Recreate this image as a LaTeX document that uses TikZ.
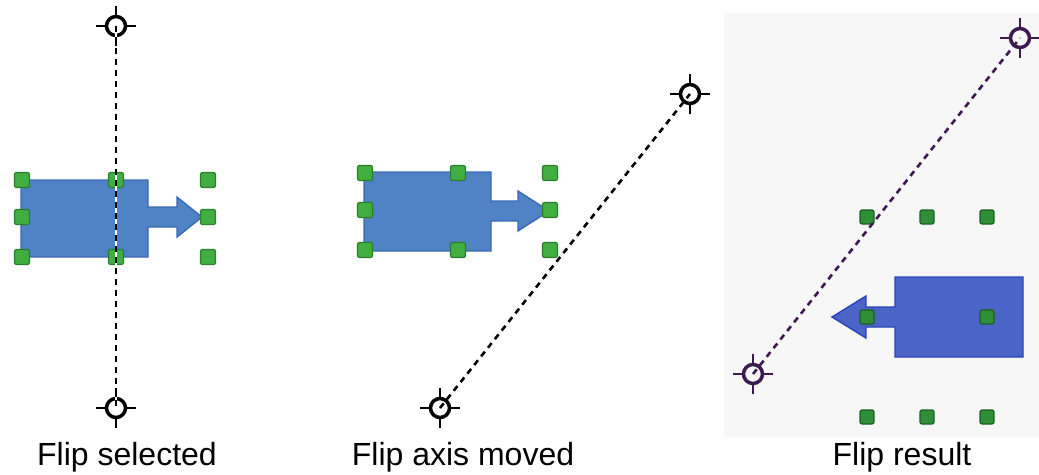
\documentclass[tikz,border=0pt]{standalone}
\usepackage{fontspec}
\setmainfont{Liberation Sans}
\usepackage{xcolor}
\usetikzlibrary{positioning}
\definecolor{blockfill}{HTML}{5082C6}
\definecolor{blockedge}{HTML}{3B6AB4}
\definecolor{flipfill}{HTML}{4A64C8}
\definecolor{flipedge}{HTML}{2B45B8}
\definecolor{gripfill}{HTML}{40AE40}
\definecolor{gripedge}{HTML}{2A7F2A}
\definecolor{gripdarkfill}{HTML}{2F8F38}
\definecolor{gripdarkedge}{HTML}{1E5E22}
\definecolor{axispurple}{HTML}{3D1A4F}
\definecolor{panelgray}{HTML}{F7F7F7}

\begin{document}
\begin{tikzpicture}[
  x=1pt, y=-1pt,
  grip/.style={draw=gripedge, fill=gripfill, rounded corners=2pt, minimum size=15pt, inner sep=0pt, line width=1.2pt},
  gripdark/.style={grip, draw=gripdarkedge, fill=gripdarkfill, minimum size=14pt},
  pivot/.style={circle, draw=#1, line width=3.5pt, minimum size=19pt, inner sep=0pt},
  pivot/.default=black,
  axisline/.style={dash pattern=on 6pt off 5pt, line width=2.6pt},
  block/.style={line width=1.4pt, line join=miter},
  lbl/.style={font=\fontsize{32}{38}\selectfont, anchor=base}]
  \useasboundingbox (0,0) rectangle (1039,474);
  \fill[panelgray] (724,13) rectangle (1039,437);

  % panel 1: flip selected
  \draw[block, fill=blockfill, draw=blockedge] (21,180) -- (148,180) -- (148,207) -- (177,207) -- (177,197) -- (202,217) -- (177,237) -- (177,227) -- (148,227) -- (148,257) -- (21,257) -- cycle;
  \foreach \x/\y/\n in {22/180/1, 116/180/2, 208/180/3, 22/217/4, 208/217/5, 22/257/6, 116/257/7, 208/257/8}
    \node[grip] (a\n) at (\x,\y) {};
  \node[pivot] (at) at (116,26) {};
  \node[pivot] (ab) at (116,408) {};
  \draw[line width=2.6pt, white] (at.center) -- (ab.center);
  \draw[axisline] (at.center) -- (ab.center);
  \node[lbl] (capa) at (127,465) {Flip selected};

  % panel 2: flip axis moved
  \draw[block, fill=blockfill, draw=blockedge] (364,172) -- (491,172) -- (491,201) -- (518,201) -- (518,191) -- (549,211) -- (518,231) -- (518,221) -- (491,221) -- (491,251) -- (364,251) -- cycle;
  \foreach \x/\y/\n in {365/173/1, 458/173/2, 550/173/3, 365/210/4, 550/210/5, 365/250/6, 458/250/7, 550/250/8}
    \node[grip] (b\n) at (\x,\y) {};
  \node[pivot] (bt) at (690,94) {};
  \node[pivot] (bb) at (440,408) {};
  \draw[axisline] (bb.center) -- (bt.center);
  \node[lbl] (capb) at (463,465) {Flip axis moved};

  % panel 3: flip result
  \draw[block, fill=flipfill, draw=flipedge] (1023,277) -- (895,277) -- (895,307) -- (866,307) -- (866,296) -- (832,317) -- (866,338) -- (866,327) -- (895,327) -- (895,357) -- (1023,357) -- cycle;
  \foreach \x/\y/\n in {867/217/1, 927/217/2, 987/217/3, 867/317/4, 987/317/5, 867/417/6, 927/417/7, 987/417/8}
    \node[gripdark] (c\n) at (\x,\y) {};
  \node[pivot=axispurple] (ct) at (1020,38) {};
  \node[pivot=axispurple] (cb) at (753,374) {};
  \draw[axisline, axispurple] (cb.center) -- (ct.center);
  \node[lbl] (capc) at (902,465) {Flip result};

  % pivot ticks
  \foreach \p/\c in {at/black, ab/black, bt/black, bb/black, ct/axispurple, cb/axispurple}
    \foreach \a/\dx/\dy in {north/0/-9, south/0/9, east/9/0, west/-9/0}
      \draw[line width=2.2pt, \c] (\p.\a) -- ++(\dx,\dy);
\end{tikzpicture}
\end{document}
